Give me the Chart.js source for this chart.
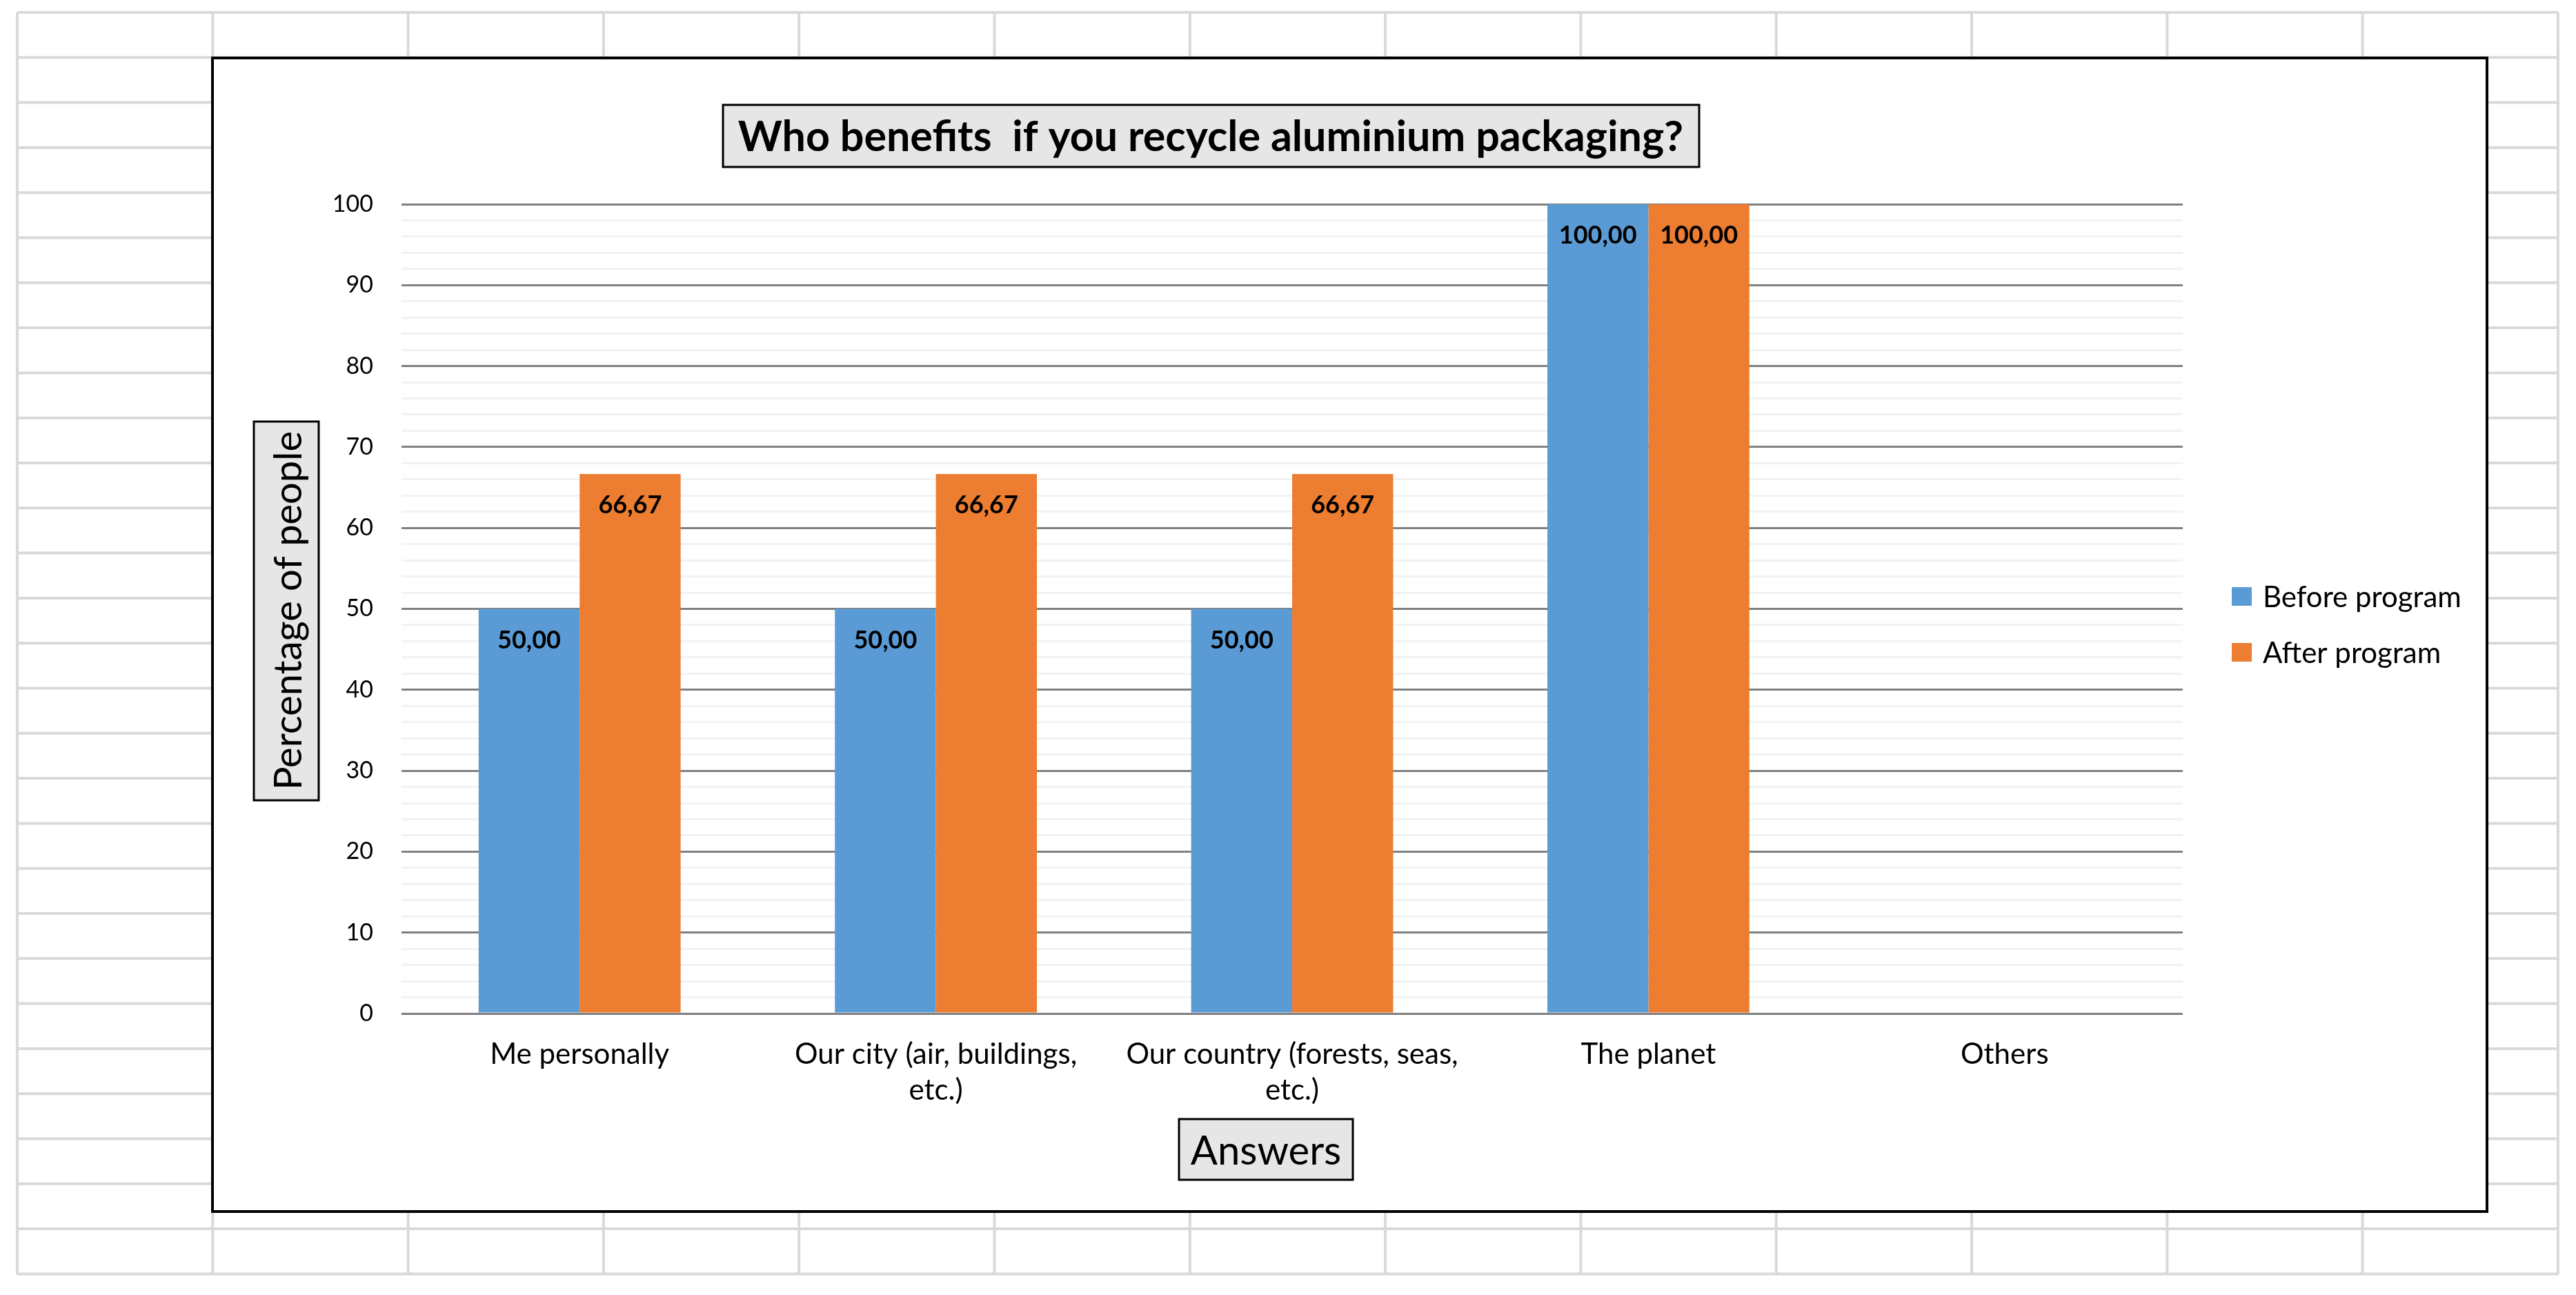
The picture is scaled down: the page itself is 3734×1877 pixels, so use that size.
<!DOCTYPE html>
<html>
<head>
<meta charset="utf-8">
<title>Who benefits if you recycle aluminium packaging?</title>
<script src="https://cdn.jsdelivr.net/npm/chart.js@4/dist/chart.umd.min.js"></script>
<style>
  html, body { margin: 0; padding: 0; background: #fff; overflow: hidden; }
  canvas { display: block; }
</style>
</head>
<body>
<canvas id="myChart" width="3734" height="1877"></canvas>
<script>
'use strict';

// data
var categories = [
  'Me personally',
  ['Our city (air, buildings,', 'etc.)'],
  ['Our country (forests, seas,', 'etc.)'],
  'The planet',
  'Others'
];
var beforeProgram = [50, 50, 50, 100, null];
var afterProgram = [66.67, 66.67, 66.67, 100, null];
var seriesNames = ['Before program', 'After program'];
var majorTicks = [0, 10, 20, 30, 40, 50, 60, 70, 80, 90, 100];

var chartTitle = 'Who benefits  if you recycle aluminium packaging?';
var yTitle = 'Percentage of people';
var xTitle = 'Answers';

var FONT = 'Lato, "Open Sans", sans-serif';

// gray box with black border, like the excel title boxes
function titleBox(c, x, y, w, h) {
  c.fillStyle = '#e7e6e6';
  c.fillRect(x, y, w, h);
  c.strokeStyle = '#000';
  c.lineWidth = 3;
  c.strokeRect(x, y, w, h);
}

// spreadsheet cells behind the chart + the chart frame
var sheetPlugin = {
  id: 'sheet',
  beforeDraw: function (chart) {
    var c = chart.ctx;
    c.save();
    c.fillStyle = '#fff';
    c.fillRect(0, 0, chart.width, chart.height);
    c.strokeStyle = '#d9d9d9';
    c.lineWidth = 4;
    c.beginPath();
    for (var i = 0; i <= 13; i++) {
      var x = 25 + i * 283.3;
      c.moveTo(x, 18);
      c.lineTo(x, 1847);
    }
    for (var j = 0; j <= 28; j++) {
      var y = 18 + j * 65.3;
      c.moveTo(25, y);
      c.lineTo(3708, y);
    }
    c.stroke();
    c.fillStyle = '#fff';
    c.fillRect(308, 84, 3297, 1672);
    c.strokeStyle = '#000';
    c.lineWidth = 4;
    c.strokeRect(308, 84, 3297, 1672);
    c.restore();
  }
};

// value labels inside the top of each bar
var valueLabels = {
  id: 'valueLabels',
  afterDatasetsDraw: function (chart) {
    var c = chart.ctx;
    c.save();
    c.font = 'bold 36px ' + FONT;
    c.fillStyle = '#000';
    c.textAlign = 'center';
    c.textBaseline = 'alphabetic';
    chart.data.datasets.forEach(function (ds, i) {
      chart.getDatasetMeta(i).data.forEach(function (bar, k) {
        var v = ds.data[k];
        if (v === null || v === undefined) return;
        c.fillText(v.toFixed(2).replace('.', ','), bar.x, bar.y + 57);
      });
    });
    c.restore();
  }
};

// title, axis titles and legend
var decorations = {
  id: 'decorations',
  afterDraw: function (chart) {
    var c = chart.ctx;
    c.save();
    c.fillStyle = '#000';

    // chart title
    titleBox(c, 1048, 152, 1415, 90);
    c.fillStyle = '#000';
    c.font = 'bold 61px ' + FONT;
    c.textAlign = 'center';
    c.textBaseline = 'alphabetic';
    c.fillText(chartTitle, 1755, 219);

    // y axis title
    titleBox(c, 368, 611, 94, 549);
    c.save();
    c.translate(437, 885);
    c.rotate(-Math.PI / 2);
    c.fillStyle = '#000';
    c.font = '56px ' + FONT;
    c.textAlign = 'center';
    c.fillText(yTitle, 0, 0);
    c.restore();

    // x axis title
    titleBox(c, 1709, 1622, 252, 88);
    c.fillStyle = '#000';
    c.font = '58px ' + FONT;
    c.textAlign = 'center';
    c.fillText(xTitle, 1835, 1688);

    // legend
    c.font = '42px ' + FONT;
    c.textAlign = 'left';
    chart.data.datasets.forEach(function (ds, i) {
      var top = 851 + i * 81;
      c.fillStyle = ds.backgroundColor;
      c.fillRect(3235, top, 29, 27);
      c.fillStyle = '#000';
      c.fillText(ds.label, 3280, top + 29);
    });
    c.restore();
  }
};

var ctx = document.getElementById('myChart').getContext('2d');

var myChart = new Chart(ctx, {
  type: 'bar',
  data: {
    labels: categories,
    datasets: [{
      label: seriesNames[0],
      data: beforeProgram,
      backgroundColor: '#5b9bd5',
      borderWidth: 0,
      barPercentage: 1,
      categoryPercentage: 0.567
    }, {
      label: seriesNames[1],
      data: afterProgram,
      backgroundColor: '#ed7d31',
      borderWidth: 0,
      barPercentage: 1,
      categoryPercentage: 0.567
    }]
  },
  options: {
    responsive: false,
    devicePixelRatio: 1,
    animation: false,
    layout: {
      padding: { top: 296, right: 570, bottom: 0, left: 0 }
    },
    plugins: {
      legend: { display: false },
      title: { display: false },
      tooltip: { enabled: false }
    },
    scales: {
      x: {
        afterFit: function (scale) { scale.height = 408; },
        grid: { display: false },
        border: { display: false },
        ticks: {
          color: '#000',
          font: { family: FONT, size: 42, lineHeight: 1.25 },
          padding: 25,
          maxRotation: 0,
          autoSkip: false
        }
      },
      y: {
        min: 0,
        max: 100,
        afterFit: function (scale) { scale.width = 582; },
        border: { display: false },
        grid: {
          drawTicks: false,
          lineWidth: 3,
          color: function (context) {
            return majorTicks.indexOf(context.tick.value) >= 0 ? '#808080' : '#f2f2f2';
          }
        },
        ticks: {
          stepSize: 2,
          autoSkip: false,
          padding: 41,
          color: '#000',
          font: { family: FONT, size: 34 },
          callback: function (value) {
            return majorTicks.indexOf(value) >= 0 ? value : '';
          }
        }
      }
    }
  },
  plugins: [sheetPlugin, valueLabels, decorations]
});
</script>
</body>
</html>
